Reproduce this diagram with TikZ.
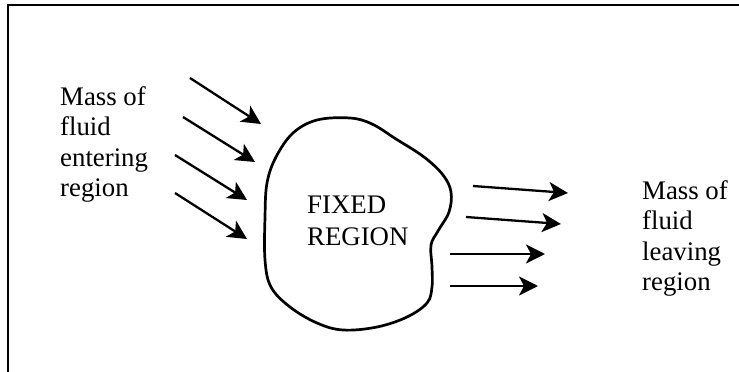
\documentclass[tikz,border=0pt]{standalone}
\usepackage{fontspec}
\setmainfont{Liberation Serif}
\usetikzlibrary{arrows.meta}
\begin{document}
\begin{tikzpicture}[x=1pt,y=-1pt,
  lbl/.style={anchor=base west, inner sep=0pt, font=\fontsize{26.8}{30}\selectfont},
  flow/.style={line width=2.3pt, -{Stealth[length=19pt,width=19pt,inset=5pt]}},
  frame/.style={line width=2.4pt}]
\useasboundingbox (0,0) rectangle (739,372);
% frame (top and left edges)
\coordinate (fbl) at (8,372);
\coordinate (ftl) at (8,5);
\coordinate (ftr) at (739,5);
\draw[frame] (fbl) -- (ftl) -- (ftr);
% fixed region
\draw[line width=2.7pt] plot[smooth cycle, tension=0.6] coordinates {
 (293,133) (317,120) (350,118) (372,124) (396,139) (424,157) (443,175)
 (451,192) (449,212) (438,231) (431,245) (432,267) (432,287) (427,303)
 (407,317) (377,327) (343,330) (317,323) (290,307) (271,287) (265,260)
 (265,217) (267,183) (276,157)};
\node[lbl] (fx1) at (307,213) {FIXED};
\node[lbl] (fx2) at (307,245) {REGION};
% left labels
\node[lbl] (l1) at (60,105) {Mass of};
\node[lbl] (l2) at (60,135) {fluid};
\node[lbl] (l3) at (60,166) {entering};
\node[lbl] (l4) at (60,196) {region};
% right labels
\node[lbl] (r1) at (642,199) {Mass of};
\node[lbl] (r2) at (642,229) {fluid};
\node[lbl] (r3) at (642,260) {leaving};
\node[lbl] (r4) at (642,290) {region};
% incoming arrows
\coordinate (ia1) at (190,78);  \coordinate (ib1) at (261,124);
\coordinate (ia2) at (183,117); \coordinate (ib2) at (255,162);
\coordinate (ia3) at (175,155); \coordinate (ib3) at (247,200);
\coordinate (ia4) at (175,193); \coordinate (ib4) at (247,239);
\foreach \i in {1,...,4} \draw[flow] (ia\i) -- (ib\i);
% outgoing arrows
\coordinate (oa1) at (473,186); \coordinate (ob1) at (568,193);
\coordinate (oa2) at (466,217); \coordinate (ob2) at (561,224);
\coordinate (oa3) at (450,254); \coordinate (ob3) at (545,254);
\coordinate (oa4) at (450,286); \coordinate (ob4) at (538,286);
\foreach \i in {1,...,4} \draw[flow] (oa\i) -- (ob\i);
\end{tikzpicture}
\end{document}
